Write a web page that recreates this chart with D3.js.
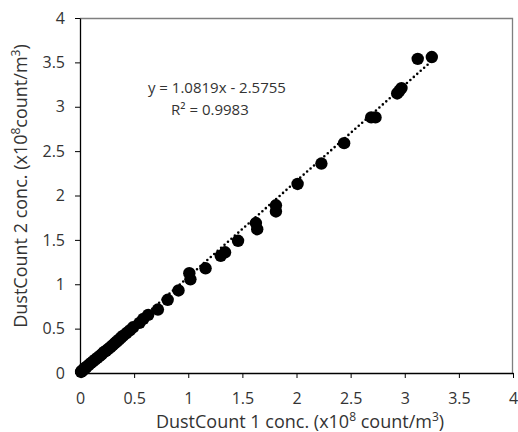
<!DOCTYPE html>
<html>
<head>
<meta charset="utf-8">
<script src="https://cdn.jsdelivr.net/npm/d3@7"></script>
<style>
  body { margin: 0; background: #fff; }
  text { font-family: "Open Sans", sans-serif; fill: #333; }
</style>
</head>
<body>
<div id="chart"></div>
<script>
// DustCount 1 vs DustCount 2 (x10^8 count/m3)
const dust1 = [0.01, 0.015, 0.02, 0.03, 0.04, 0.05, 0.06, 0.08, 0.1, 0.12, 0.14, 0.16, 0.18, 0.2,
  0.22, 0.24, 0.26, 0.28, 0.3, 0.32, 0.34, 0.36, 0.38, 0.4, 0.43, 0.46, 0.49, 0.55, 0.585, 0.63,
  0.72, 0.81, 0.91, 1.01, 1.02, 1.16, 1.30, 1.34, 1.46, 1.625, 1.637, 1.81, 1.81, 2.01, 2.23,
  2.44, 2.69, 2.73, 2.93, 2.95, 2.97, 3.12, 3.25];
const dust2 = [0.012, 0.02, 0.025, 0.035, 0.05, 0.055, 0.07, 0.09, 0.11, 0.13, 0.15, 0.17, 0.19, 0.21,
  0.235, 0.25, 0.27, 0.29, 0.31, 0.335, 0.355, 0.375, 0.4, 0.42, 0.45, 0.48, 0.515, 0.565, 0.61, 0.655,
  0.715, 0.825, 0.93, 1.125, 1.055, 1.18, 1.32, 1.36, 1.49, 1.69, 1.62, 1.89, 1.82, 2.13, 2.36,
  2.59, 2.88, 2.88, 3.15, 3.18, 3.21, 3.54, 3.56];
const xTicks = [0, 0.5, 1, 1.5, 2, 2.5, 3, 3.5, 4];
const yTicks = [0, 0.5, 1, 1.5, 2, 2.5, 3, 3.5, 4];
const slope = 1.0819;
const equation = "y = 1.0819x - 2.5755";
const rSquared = "R² = 0.9983";

const w = 518, h = 432;
const margin = { top: 18, right: 5, bottom: 59, left: 80 };
const width = w - margin.left - margin.right;
const height = h - margin.top - margin.bottom;

const svg = d3.select("#chart").append("svg")
  .attr("width", w)
  .attr("height", h);

const g = svg.append("g")
  .attr("transform", "translate(" + margin.left + "," + margin.top + ")");

const x = d3.scaleLinear().domain([0, 4]).range([0, width]);
const y = d3.scaleLinear().domain([0, 4]).range([height, 0]);

// grey frame on top and right
g.append("path")
  .attr("d", "M0,0.5H" + (width - 0.5) + "V" + height)
  .attr("fill", "none")
  .attr("stroke", "#7f7f7f")
  .attr("stroke-width", 1.3);

const points = dust1.map((d, i) => ({ a: d, b: dust2[i] }));

g.selectAll(".dot")
  .data(points)
  .enter()
  .append("circle")
    .classed("dot", true)
    .attr("cx", d => x(d.a))
    .attr("cy", d => y(d.b))
    .attr("r", 6.2)
    .attr("fill", "#000");

// linear trendline, dotted
const xMax = d3.max(dust1);
g.append("line")
  .attr("x1", x(0))
  .attr("y1", y(0))
  .attr("x2", x(xMax))
  .attr("y2", y(slope * xMax))
  .attr("stroke", "#000")
  .attr("stroke-width", 2.6)
  .attr("stroke-linecap", "round")
  .attr("stroke-dasharray", "0,4.6");

const xAxis = d3.axisBottom(x).tickValues(xTicks).tickFormat(d3.format("")).tickSize(5).tickSizeOuter(0);
const yAxis = d3.axisLeft(y).tickValues(yTicks).tickFormat(d3.format("")).tickSize(5).tickSizeOuter(0);

const gx = g.append("g")
  .attr("transform", "translate(0," + height + ")")
  .call(xAxis);
gx.select(".domain").attr("stroke", "#000").attr("stroke-width", 1.3);
gx.selectAll(".tick line").attr("stroke", "#000");
gx.selectAll("text")
  .attr("dy", "0")
  .attr("y", 30.5)
  .style("font-size", "16px");

const gy = g.append("g").call(yAxis);
gy.select(".domain").attr("stroke", "#000").attr("stroke-width", 1.3);
gy.selectAll(".tick line").attr("stroke", "#000");
gy.selectAll("text")
  .attr("x", -15)
  .style("font-size", "16px");

// trendline equation
g.append("text")
  .attr("x", x(1.265))
  .attr("y", y(3.15))
  .style("text-anchor", "middle")
  .style("font-size", "15px")
  .text(equation);
g.append("text")
  .attr("x", x(1.2))
  .attr("y", y(2.91))
  .style("text-anchor", "middle")
  .style("font-size", "15px")
  .text(rSquared);

// axis titles with superscripts
const xt = svg.append("text")
  .attr("x", 300)
  .attr("y", 428)
  .style("text-anchor", "middle")
  .style("font-size", "18px");
xt.append("tspan").text("DustCount 1 conc. (x10");
xt.append("tspan").attr("dy", -7).style("font-size", "12px").text("8");
xt.append("tspan").attr("dy", 7).text(" count/m");
xt.append("tspan").attr("dy", -7).style("font-size", "12px").text("3");
xt.append("tspan").attr("dy", 7).text(")");

const yt = svg.append("text")
  .attr("transform", "translate(27,186) rotate(-90)")
  .style("text-anchor", "middle")
  .style("font-size", "18px");
yt.append("tspan").text("DustCount 2 conc. (x10");
yt.append("tspan").attr("dy", -7).style("font-size", "12px").text("8");
yt.append("tspan").attr("dy", 7).text("count/m");
yt.append("tspan").attr("dy", -7).style("font-size", "12px").text("3");
yt.append("tspan").attr("dy", 7).text(")");
</script>
</body>
</html>
